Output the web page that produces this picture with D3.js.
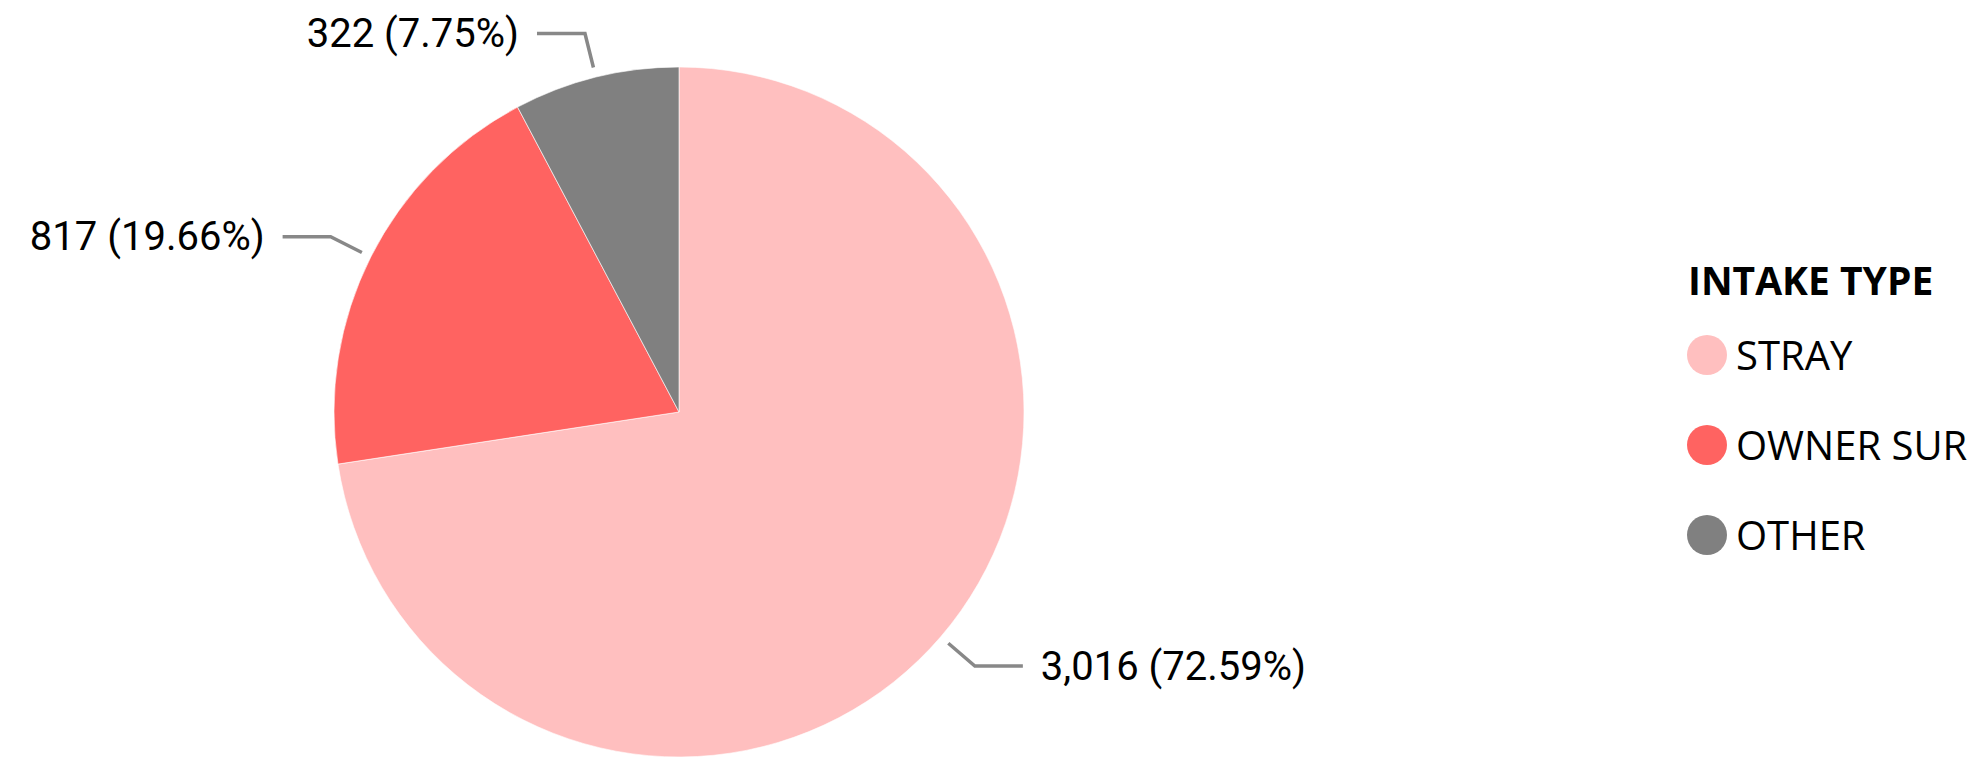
<!DOCTYPE html>
<html>
<head>
<meta charset="utf-8">
<script src="https://cdn.jsdelivr.net/npm/d3@7"></script>
<style>
  body { margin: 0; background: #fff; }
</style>
</head>
<body>
<div id="chart"></div>
<script>
const categories = ["STRAY", "OWNER SUR", "OTHER"];
const counts = [3016, 817, 322];
const legendTitle = "INTAKE TYPE";

const width = 1978;
const height = 764;
const cx = 679, cy = 412, radius = 345;

const color = d3.scaleOrdinal()
    .domain(categories)
    .range(["#FFBFBF", "#FF6361", "#808080"]);

const svg = d3.select("#chart")
    .append("svg")
    .attr("width", width)
    .attr("height", height);

const total = d3.sum(counts);
const pie = d3.pie().sort(null).value(d => d.value);
const arcs = pie(categories.map((c, i) => ({name: c, value: counts[i]})));

const arc = d3.arc().innerRadius(0).outerRadius(radius);
const arcIn = d3.arc().innerRadius(radius + 10).outerRadius(radius + 10);
const arcOut = d3.arc().innerRadius(radius + 45).outerRadius(radius + 45);

const g = svg.append("g").attr("transform", `translate(${cx},${cy})`);

g.selectAll("path.slice")
  .data(arcs)
  .join("path")
    .attr("class", "slice")
    .attr("d", arc)
    .attr("fill", d => color(d.data.name))
    .attr("stroke", "#fff")
    .attr("stroke-width", 0.6);

// leader lines + labels
const fmt = d3.format(",");
const mid = d => (d.startAngle + d.endAngle) / 2;

g.selectAll("polyline")
  .data(arcs)
  .join("polyline")
    .attr("fill", "none")
    .attr("stroke", "#888")
    .attr("stroke-width", 3.5)
    .attr("points", d => {
      const a = arcIn.centroid(d);
      const b = arcOut.centroid(d);
      const c = [b[0] + (mid(d) < Math.PI ? 48 : -48), b[1]];
      return [a, b, c].map(p => p.join(",")).join(" ");
    });

g.selectAll("text.lbl")
  .data(arcs)
  .join("text")
    .attr("class", "lbl")
    .attr("x", d => arcOut.centroid(d)[0] + (mid(d) < Math.PI ? 66 : -66))
    .attr("y", d => arcOut.centroid(d)[1])
    .attr("dy", "0.34em")
    .attr("text-anchor", d => mid(d) < Math.PI ? "start" : "end")
    .attr("font-family", "Roboto, sans-serif")
    .attr("font-size", 40)
    .attr("fill", "#000")
    .text(d => `${fmt(d.data.value)} (${(d.data.value / total * 100).toFixed(2)}%)`);

// legend
const legend = svg.append("g").attr("transform", "translate(1688,0)");

legend.append("text")
    .attr("x", 0)
    .attr("y", 295)
    .attr("font-family", "'Open Sans', sans-serif")
    .attr("font-weight", "bold")
    .attr("font-size", 39)
    .attr("fill", "#000")
    .text(legendTitle);

const item = legend.selectAll("g.item")
  .data(categories)
  .join("g")
    .attr("class", "item")
    .attr("transform", (d, i) => `translate(0,${355 + i * 90})`);

item.append("circle")
    .attr("cx", 19)
    .attr("cy", 0)
    .attr("r", 20)
    .attr("fill", d => color(d));

item.append("text")
    .attr("x", 48)
    .attr("y", 15)
    .attr("font-family", "'Open Sans', sans-serif")
    .attr("font-size", 40)
    .attr("fill", "#000")
    .text(d => d);
</script>
</body>
</html>
